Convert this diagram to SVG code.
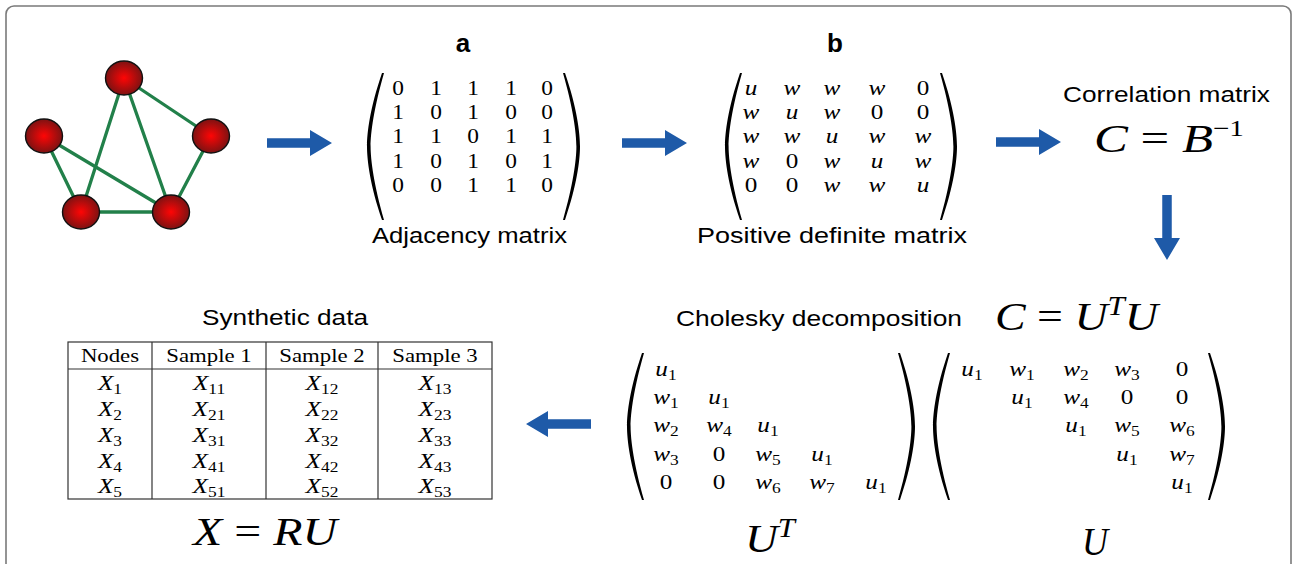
<svg xmlns="http://www.w3.org/2000/svg" width="1292" height="564" viewBox="0 0 1292 564">
<defs>
<style>
.sans{font-family:"Liberation Sans",Arial,sans-serif;fill:#000}
.lbl{font-size:22.5px}
.bold{font-size:26px;font-weight:bold;text-anchor:middle}
.m{font-family:"Liberation Serif","Times New Roman",serif;font-size:21px;text-anchor:middle;fill:#000}
.d{font-size:20px}
.i{font-style:italic}
.sb{font-size:14.5px;font-style:normal}
.hd{font-size:19px;font-style:normal}
.big{font-family:"Liberation Serif","Times New Roman",serif;font-size:40px;fill:#000}
.edge{stroke:#22804a;stroke-width:3.3;stroke-linecap:round}
.node{fill:url(#rg);stroke:#111;stroke-width:1.4}
.arrow{fill:#1e5aa8}
.paren{fill:#000}
.tbl{fill:none;stroke:#333;stroke-width:1.2}
</style>
<radialGradient id="rg" cx="50%" cy="50%" r="50%">
<stop offset="0" stop-color="#ff0505"/>
<stop offset="1" stop-color="#7d1212"/>
</radialGradient>
<path id="lp" d="M15,0 C3,35 0,60 0,73.5 C0,87 3,112 15,147 L17,147 C7,112 3.6,87 3.6,73.5 C3.6,60 7,35 17,0 Z"/>
<path id="arr" d="M0,-4.75 H43 V-13 L65,0 L43,13 V4.75 H0 Z"/>
</defs>
<rect x="0" y="0" width="1292" height="564" fill="#fff"/>
<rect x="6" y="6" width="1285" height="620" rx="8" fill="none" stroke="#7a7a7a" stroke-width="1.6"/>

<g id="connectors">
<line class="edge" x1="124" y1="78" x2="81" y2="212"/>
<line class="edge" x1="124" y1="78" x2="171" y2="212"/>
<line class="edge" x1="124" y1="78" x2="211" y2="136"/>
<line class="edge" x1="44" y1="136" x2="81" y2="212"/>
<line class="edge" x1="44" y1="136" x2="171" y2="212"/>
<line class="edge" x1="211" y1="136" x2="171" y2="212"/>
<line class="edge" x1="81" y1="212" x2="171" y2="212"/>
<use href="#arr" class="arrow" transform="translate(267,143)"/>
<use href="#arr" class="arrow" transform="translate(622,143)"/>
<use href="#arr" class="arrow" transform="translate(996,142)"/>
<use href="#arr" class="arrow" transform="translate(1167,195) rotate(90)"/>
<use href="#arr" class="arrow" transform="translate(591,424) rotate(180)"/>
</g>

<g id="node-1"><ellipse class="node" cx="124" cy="78" rx="18.5" ry="17"/></g>
<g id="node-2"><ellipse class="node" cx="44" cy="136" rx="18.5" ry="17"/></g>
<g id="node-3"><ellipse class="node" cx="211" cy="136" rx="18.5" ry="17"/></g>
<g id="node-4"><ellipse class="node" cx="81" cy="212" rx="18.5" ry="17"/></g>
<g id="node-5"><ellipse class="node" cx="171" cy="212" rx="18.5" ry="17"/></g>

<g id="adjacency-matrix">
<text class="sans bold" x="463" y="52">a</text>
<use href="#lp" class="paren" transform="translate(367,73)"/>
<use href="#lp" class="paren" transform="translate(580,73) scale(-1,1)"/>
<g class="m d" transform="translate(398,0) scale(1.17,1)"><text x="0" y="95">0</text><text x="0" y="119">1</text><text x="0" y="143">1</text><text x="0" y="168">1</text><text x="0" y="192">0</text></g>
<g class="m d" transform="translate(436,0) scale(1.17,1)"><text x="0" y="95">1</text><text x="0" y="119">0</text><text x="0" y="143">1</text><text x="0" y="168">0</text><text x="0" y="192">0</text></g>
<g class="m d" transform="translate(473,0) scale(1.17,1)"><text x="0" y="95">1</text><text x="0" y="119">1</text><text x="0" y="143">0</text><text x="0" y="168">1</text><text x="0" y="192">1</text></g>
<g class="m d" transform="translate(511,0) scale(1.17,1)"><text x="0" y="95">1</text><text x="0" y="119">0</text><text x="0" y="143">1</text><text x="0" y="168">0</text><text x="0" y="192">1</text></g>
<g class="m d" transform="translate(547,0) scale(1.17,1)"><text x="0" y="95">0</text><text x="0" y="119">0</text><text x="0" y="143">1</text><text x="0" y="168">1</text><text x="0" y="192">0</text></g>
<text class="sans lbl" x="372" y="243" textLength="195" lengthAdjust="spacingAndGlyphs">Adjacency matrix</text>
</g>

<g id="positive-definite-matrix">
<text class="sans bold" x="835" y="52">b</text>
<use href="#lp" class="paren" transform="translate(725,73)"/>
<use href="#lp" class="paren" transform="translate(957,73) scale(-1,1)"/>
<g class="m" transform="translate(751,0) scale(1.2,1)"><text class="i" x="0" y="95">u</text><text class="i" x="0" y="119">w</text><text class="i" x="0" y="143">w</text><text class="i" x="0" y="168">w</text><text x="0" y="192">0</text></g>
<g class="m" transform="translate(792,0) scale(1.2,1)"><text class="i" x="0" y="95">w</text><text class="i" x="0" y="119">u</text><text class="i" x="0" y="143">w</text><text x="0" y="168">0</text><text x="0" y="192">0</text></g>
<g class="m" transform="translate(832,0) scale(1.2,1)"><text class="i" x="0" y="95">w</text><text class="i" x="0" y="119">w</text><text class="i" x="0" y="143">u</text><text class="i" x="0" y="168">w</text><text class="i" x="0" y="192">w</text></g>
<g class="m" transform="translate(877,0) scale(1.2,1)"><text class="i" x="0" y="95">w</text><text x="0" y="119">0</text><text class="i" x="0" y="143">w</text><text class="i" x="0" y="168">u</text><text class="i" x="0" y="192">w</text></g>
<g class="m" transform="translate(923,0) scale(1.2,1)"><text x="0" y="95">0</text><text x="0" y="119">0</text><text class="i" x="0" y="143">w</text><text class="i" x="0" y="168">w</text><text class="i" x="0" y="192">u</text></g>
<text class="sans lbl" x="697" y="243" textLength="270" lengthAdjust="spacingAndGlyphs">Positive definite matrix</text>
</g>

<g id="correlation-matrix">
<text class="sans lbl" x="1063" y="102" textLength="207" lengthAdjust="spacingAndGlyphs">Correlation matrix</text>
<text class="big" x="1094" y="152" textLength="150" lengthAdjust="spacingAndGlyphs"><tspan class="i">C</tspan> = <tspan class="i">B</tspan><tspan font-size="23" dy="-16">−1</tspan></text>
</g>

<g id="cholesky">
<text class="sans lbl" x="676" y="326" textLength="286" lengthAdjust="spacingAndGlyphs">Cholesky decomposition</text>
<text class="big" x="995" y="330" textLength="163" lengthAdjust="spacingAndGlyphs"><tspan class="i">C</tspan> = <tspan class="i">U</tspan><tspan class="i" font-size="27" dy="-15">T</tspan><tspan class="i" dy="15">U</tspan></text>
</g>

<g id="matrix-UT">
<use href="#lp" class="paren" transform="translate(627,353)"/>
<use href="#lp" class="paren" transform="translate(915,353) scale(-1,1)"/>
<g class="m" transform="translate(666,0) scale(1.2,1)">
<text class="i" x="0" y="376">u<tspan class="sb" dy="4">1</tspan></text>
<text class="i" x="0" y="404">w<tspan class="sb" dy="4">1</tspan></text>
<text class="i" x="0" y="432">w<tspan class="sb" dy="4">2</tspan></text>
<text class="i" x="0" y="461">w<tspan class="sb" dy="4">3</tspan></text>
<text x="0" y="489">0</text>
</g>
<g class="m" transform="translate(719,0) scale(1.2,1)">
<text class="i" x="0" y="404">u<tspan class="sb" dy="4">1</tspan></text>
<text class="i" x="0" y="432">w<tspan class="sb" dy="4">4</tspan></text>
<text x="0" y="461">0</text>
<text x="0" y="489">0</text>
</g>
<g class="m" transform="translate(768,0) scale(1.2,1)">
<text class="i" x="0" y="432">u<tspan class="sb" dy="4">1</tspan></text>
<text class="i" x="0" y="461">w<tspan class="sb" dy="4">5</tspan></text>
<text class="i" x="0" y="489">w<tspan class="sb" dy="4">6</tspan></text>
</g>
<g class="m" transform="translate(822,0) scale(1.2,1)">
<text class="i" x="0" y="461">u<tspan class="sb" dy="4">1</tspan></text>
<text class="i" x="0" y="489">w<tspan class="sb" dy="4">7</tspan></text>
</g>
<g class="m" transform="translate(876,0) scale(1.2,1)">
<text class="i" x="0" y="489">u<tspan class="sb" dy="4">1</tspan></text>
</g>
<text class="big" x="745" y="552" textLength="50" lengthAdjust="spacingAndGlyphs"><tspan class="i">U</tspan><tspan class="i" font-size="27" dy="-15">T</tspan></text>
</g>

<g id="matrix-U">
<use href="#lp" class="paren" transform="translate(933,353)"/>
<use href="#lp" class="paren" transform="translate(1225,353) scale(-1,1)"/>
<g class="m" transform="translate(972,0) scale(1.2,1)">
<text class="i" x="0" y="376">u<tspan class="sb" dy="4">1</tspan></text>
</g>
<g class="m" transform="translate(1022,0) scale(1.2,1)">
<text class="i" x="0" y="376">w<tspan class="sb" dy="4">1</tspan></text>
<text class="i" x="0" y="404">u<tspan class="sb" dy="4">1</tspan></text>
</g>
<g class="m" transform="translate(1076,0) scale(1.2,1)">
<text class="i" x="0" y="376">w<tspan class="sb" dy="4">2</tspan></text>
<text class="i" x="0" y="404">w<tspan class="sb" dy="4">4</tspan></text>
<text class="i" x="0" y="432">u<tspan class="sb" dy="4">1</tspan></text>
</g>
<g class="m" transform="translate(1127,0) scale(1.2,1)">
<text class="i" x="0" y="376">w<tspan class="sb" dy="4">3</tspan></text>
<text x="0" y="404">0</text>
<text class="i" x="0" y="432">w<tspan class="sb" dy="4">5</tspan></text>
<text class="i" x="0" y="461">u<tspan class="sb" dy="4">1</tspan></text>
</g>
<g class="m" transform="translate(1182,0) scale(1.2,1)">
<text x="0" y="376">0</text>
<text x="0" y="404">0</text>
<text class="i" x="0" y="432">w<tspan class="sb" dy="4">6</tspan></text>
<text class="i" x="0" y="461">w<tspan class="sb" dy="4">7</tspan></text>
<text class="i" x="0" y="489">u<tspan class="sb" dy="4">1</tspan></text>
</g>
<text class="big i" x="1082" y="555" textLength="26" lengthAdjust="spacingAndGlyphs">U</text>
</g>

<g id="synthetic-data">
<text class="sans lbl" x="202" y="325" textLength="166" lengthAdjust="spacingAndGlyphs">Synthetic data</text>
<rect class="tbl" x="68" y="342" width="424" height="157"/>
<line class="tbl" x1="68" y1="369" x2="492" y2="369"/>
<line class="tbl" x1="152" y1="342" x2="152" y2="499"/>
<line class="tbl" x1="266" y1="342" x2="266" y2="499"/>
<line class="tbl" x1="378" y1="342" x2="378" y2="499"/>
<g class="m" transform="translate(110,0) scale(1.2,1)">
<text class="hd" x="0" y="362">Nodes</text>
<text class="i" x="0" y="390">X<tspan class="sb" dy="4">1</tspan></text>
<text class="i" x="0" y="416">X<tspan class="sb" dy="4">2</tspan></text>
<text class="i" x="0" y="442">X<tspan class="sb" dy="4">3</tspan></text>
<text class="i" x="0" y="468">X<tspan class="sb" dy="4">4</tspan></text>
<text class="i" x="0" y="493">X<tspan class="sb" dy="4">5</tspan></text>
</g>
<g class="m" transform="translate(209,0) scale(1.2,1)">
<text class="hd" x="0" y="362">Sample 1</text>
<text class="i" x="0" y="390">X<tspan class="sb" dy="4">11</tspan></text>
<text class="i" x="0" y="416">X<tspan class="sb" dy="4">21</tspan></text>
<text class="i" x="0" y="442">X<tspan class="sb" dy="4">31</tspan></text>
<text class="i" x="0" y="468">X<tspan class="sb" dy="4">41</tspan></text>
<text class="i" x="0" y="493">X<tspan class="sb" dy="4">51</tspan></text>
</g>
<g class="m" transform="translate(322,0) scale(1.2,1)">
<text class="hd" x="0" y="362">Sample 2</text>
<text class="i" x="0" y="390">X<tspan class="sb" dy="4">12</tspan></text>
<text class="i" x="0" y="416">X<tspan class="sb" dy="4">22</tspan></text>
<text class="i" x="0" y="442">X<tspan class="sb" dy="4">32</tspan></text>
<text class="i" x="0" y="468">X<tspan class="sb" dy="4">42</tspan></text>
<text class="i" x="0" y="493">X<tspan class="sb" dy="4">52</tspan></text>
</g>
<g class="m" transform="translate(435,0) scale(1.2,1)">
<text class="hd" x="0" y="362">Sample 3</text>
<text class="i" x="0" y="390">X<tspan class="sb" dy="4">13</tspan></text>
<text class="i" x="0" y="416">X<tspan class="sb" dy="4">23</tspan></text>
<text class="i" x="0" y="442">X<tspan class="sb" dy="4">33</tspan></text>
<text class="i" x="0" y="468">X<tspan class="sb" dy="4">43</tspan></text>
<text class="i" x="0" y="493">X<tspan class="sb" dy="4">53</tspan></text>
</g>
<text class="big" x="193" y="545" textLength="144" lengthAdjust="spacingAndGlyphs"><tspan class="i">X</tspan> = <tspan class="i">RU</tspan></text>
</g>
</svg>
